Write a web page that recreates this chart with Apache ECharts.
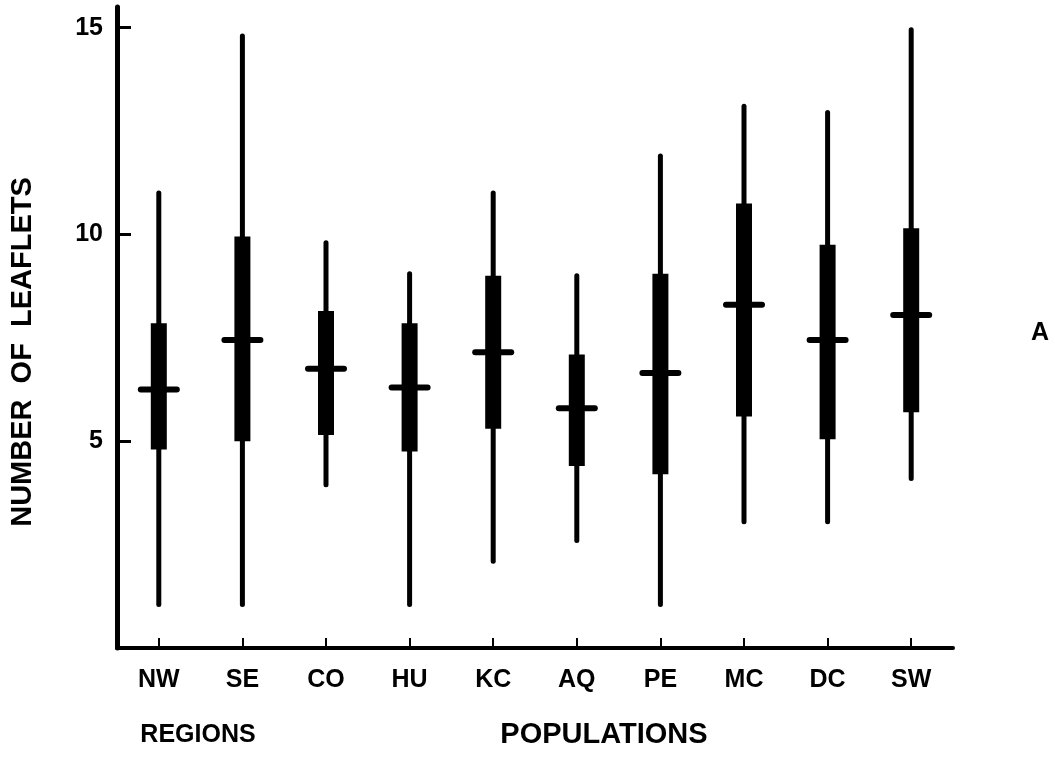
<!DOCTYPE html>
<html>
<head>
<meta charset="utf-8">
<script src="https://cdn.jsdelivr.net/npm/echarts@6/dist/echarts.min.js"></script>
<style>
  html, body { margin: 0; padding: 0; background: #fff; }
  #chart { width: 1055px; height: 760px; }
</style>
</head>
<body>
<div id="chart"></div>
<script>
// ---- data ----
const categories = ['NW', 'SE', 'CO', 'HU', 'KC', 'AQ', 'PE', 'MC', 'DC', 'SW'];
const minVals    = [1.05, 1.05, 3.95, 1.05, 2.1, 2.6, 1.05, 3.05, 3.05, 4.1];
const q1Vals     = [4.8, 5.0, 5.15, 4.75, 5.3, 4.4, 4.2, 5.6, 5.05, 5.7];
const medVals    = [6.25, 7.45, 6.75, 6.3, 7.15, 5.8, 6.65, 8.3, 7.45, 8.05];
const q3Vals     = [7.85, 9.95, 8.15, 7.85, 9.0, 7.1, 9.05, 10.75, 9.75, 10.15];
const maxVals    = [11.0, 14.8, 9.8, 9.05, 11.0, 9.0, 11.9, 13.1, 12.95, 14.95];
const yTickValues = [5, 10, 15];

const seriesData = categories.map((c, i) => [i, minVals[i], q1Vals[i], medVals[i], q3Vals[i], maxVals[i]]);

const FONT = '"Liberation Sans", Arial, sans-serif';
const chart = echarts.init(document.getElementById('chart'), null, { renderer: 'canvas' });

chart.setOption({
  backgroundColor: '#ffffff',
  animation: false,
  grid: { left: 117, top: 7, width: 836, bottom: 112, containLabel: false },
  xAxis: {
    type: 'category',
    data: categories,
    boundaryGap: true,
    axisLine: { lineStyle: { color: '#000', width: 4 } },
    axisTick: { show: true, inside: true, alignWithLabel: true, length: 10, lineStyle: { color: '#000', width: 2 } },
    axisLabel: { color: '#000', fontFamily: FONT, fontWeight: 'bold', fontSize: 25, margin: 20 },
    splitLine: { show: false }
  },
  yAxis: {
    type: 'value',
    min: 0,
    max: 15.5,
    interval: 5,
    axisLine: { show: true, lineStyle: { color: '#000', width: 5 } },
    axisTick: { show: true, inside: true, length: 14, customValues: yTickValues, lineStyle: { color: '#000', width: 3 } },
    axisLabel: { color: '#000', fontFamily: FONT, fontWeight: 'bold', fontSize: 25, margin: 14, customValues: yTickValues },
    splitLine: { show: false }
  },
  series: [{
    type: 'custom',
    data: seriesData,
    encode: { x: 0, y: [1, 2, 3, 4, 5] },
    renderItem: function (params, api) {
      const idx = api.value(0);
      const pMin = api.coord([idx, api.value(1)]);
      const pQ1 = api.coord([idx, api.value(2)]);
      const pMed = api.coord([idx, api.value(3)]);
      const pQ3 = api.coord([idx, api.value(4)]);
      const pMax = api.coord([idx, api.value(5)]);
      const cx = pMed[0];
      return {
        type: 'group',
        children: [
          { type: 'line', shape: { x1: cx, y1: pMin[1], x2: cx, y2: pMax[1] },
            style: { stroke: '#000', lineWidth: 5, lineCap: 'round' } },
          { type: 'rect', shape: { x: cx - 8, y: pQ3[1], width: 16, height: pQ1[1] - pQ3[1] },
            style: { fill: '#000' } },
          { type: 'line', shape: { x1: cx - 18, y1: pMed[1], x2: cx + 18, y2: pMed[1] },
            style: { stroke: '#000', lineWidth: 6, lineCap: 'round' } }
        ]
      };
    }
  }],
  graphic: [
    { type: 'text', x: 23, y: 352, rotation: Math.PI / 2,
      style: { text: 'NUMBER  OF  LEAFLETS', textAlign: 'center', textVerticalAlign: 'middle',
               fill: '#000', font: 'bold 29px ' + FONT } },
    { type: 'text', x: 198, y: 735,
      style: { text: 'REGIONS', textAlign: 'center', textVerticalAlign: 'middle',
               fill: '#000', font: 'bold 25px ' + FONT } },
    { type: 'text', x: 604, y: 735,
      style: { text: 'POPULATIONS', textAlign: 'center', textVerticalAlign: 'middle',
               fill: '#000', font: 'bold 29px ' + FONT } },
    { type: 'text', x: 1040, y: 333,
      style: { text: 'A', textAlign: 'center', textVerticalAlign: 'middle',
               fill: '#000', font: 'bold 25px ' + FONT } }
  ]
});
</script>
</body>
</html>
